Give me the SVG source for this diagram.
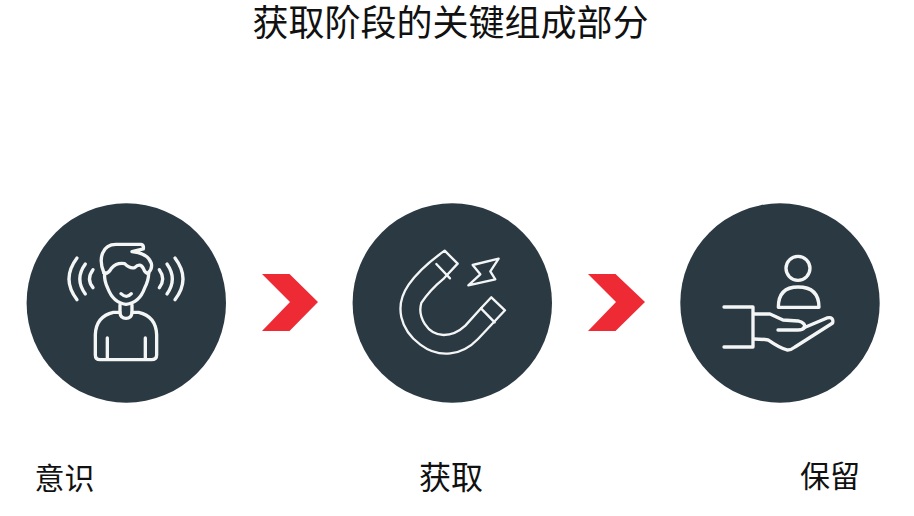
<svg xmlns="http://www.w3.org/2000/svg" width="914" height="516" viewBox="0 0 914 516">
<style>
text{font-family:"Noto Sans CJK SC","Noto Sans",sans-serif;fill:#111;text-anchor:middle}
.c{fill:#2a3942}
.i{fill:none;stroke:#f4f6f6;stroke-linecap:round;stroke-linejoin:round}
.a{fill:#ee2a35}
</style>
<rect width="914" height="516" fill="#fff"/>
<text id="title" x="450.500" y="35.500" font-size="36">获取阶段的关键组成部分</text>
<g id="node-awareness">
<circle class="c" cx="126.300" cy="303" r="99.700"/>
<g class="i" transform="translate(26 203) scale(.3333)" stroke-width="10">
<path d="M153 165Q105 228 153 290M178 183Q145 228 178 273M201 200Q180 228 201 254"/>
<path d="M447 165Q495 228 447 290M423 183Q455 228 423 273M400 200Q420 228 400 254"/>
<path d="M234 210C215 165 230 124 270 124H345Q354 126 352 138L318 146Q365 150 376 181Q380 198 366 211"/>
<path d="M234 210Q246 214 256 196Q272 178 296 182Q312 198 326 194Q342 178 352 196Q358 212 368 211"/>
<path d="M236 210Q234 232 245 255Q262 300 300 304Q340 300 356 255Q368 232 368 211"/>
<path d="M285 272Q302 288 316 272"/>
<path d="M282 306V330Q284 346 300 346Q316 346 318 330V306"/>
<path d="M282 328H262Q210 340 208 395V456Q208 470 222 470H376Q392 470 392 456V395Q390 340 338 328H318"/>
<path d="M244 405V468M358 405V468"/>
</g>
</g>
<g id="node-acquisition">
<circle class="c" cx="452.300" cy="303" r="99.700"/>
<g class="i" transform="translate(352 203) scale(.3333)" stroke-width="7">
<path d="M278 143L317 182L276 226Q232 262 208 300C196 340 225 395 275 396Q310 396 340 368L387 316L418 283L459 322L378 408C330 458 262 468 205 425C145 380 125 310 170 245Q205 195 278 143Z"/>
<path d="M253 183L294 226M387 316L428 358"/>
<path d="M362 186L440 167L415 205L430 229L349 247L385 214Z"/>
</g>
</g>
<g id="node-retention">
<circle class="c" cx="780" cy="303" r="99.700"/>
<g class="i" transform="translate(680 203) scale(.3333)" stroke-width="10">
<circle cx="354" cy="196" r="36"/>
<path d="M295 313Q295 252 354 252Q417 252 417 313Z"/>
<path d="M132 312H219V432H132"/>
<path d="M222 333H270L309 351L354 354Q380 360 372 376Q368 381 354 381H294"/>
<path d="M370 375L441 345Q462 340 458 360L345 432Q332 442 321 441Q300 436 264 411Q245 408 222 408"/>
</g>
</g>
<g id="connectors">
<path class="a" d="M262 274H289.500L318 302L289.500 331H262L290 302Z"/>
<path class="a" d="M588 274H615.500L645 302L615.500 331H588L616 302Z"/>
</g>
<text id="label-awareness" x="64.500" y="489" font-size="30">意识</text>
<text id="label-acquisition" x="451" y="489" font-size="32">获取</text>
<text id="label-retention" x="830" y="487" font-size="30">保留</text>
</svg>
